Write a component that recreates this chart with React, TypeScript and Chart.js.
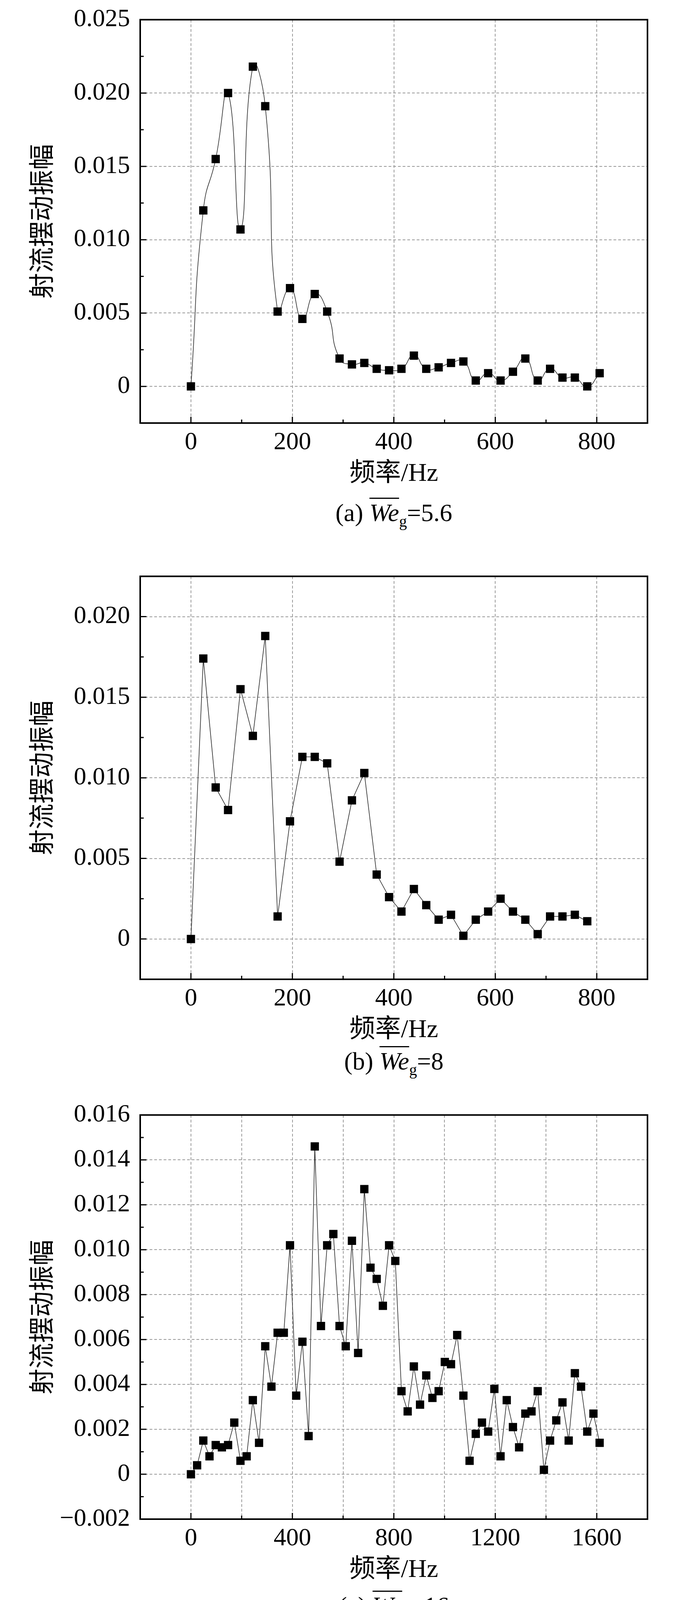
import React, { useEffect, useRef } from "react";
import Chart from "chart.js/auto";

const SERIF = '"Liberation Serif", "Times New Roman", "Noto Sans CJK SC", serif';

// frequency bins, Hz
const freqHz = [
  0, 24.4, 48.8, 73.2, 97.7, 122.1, 146.5, 170.9, 195.3, 219.7,
  244.1, 268.6, 293.0, 317.4, 341.8, 366.2, 390.6, 415.0, 439.5, 463.9,
  488.3, 512.7, 537.1, 561.5, 585.9, 610.4, 634.8, 659.2, 683.6, 708.0,
  732.4, 756.8, 781.3, 805.7, 830.1, 854.5, 878.9, 903.3, 927.7, 952.1,
  976.6, 1001.0, 1025.4, 1049.8, 1074.2, 1098.6, 1123.0, 1147.5, 1171.9, 1196.3,
  1220.7, 1245.1, 1269.5, 1293.9, 1318.4, 1342.8, 1367.2, 1391.6, 1416.0, 1440.4,
  1464.8, 1489.3, 1513.7, 1538.1, 1562.5, 1586.9, 1611.3,
];

// jet swing amplitude per case
const ampWe56 = [
  0, 0.012, 0.0155, 0.02, 0.0107, 0.0218, 0.0191, 0.0051, 0.0067, 0.0046,
  0.0063, 0.0051, 0.0019, 0.0015, 0.0016, 0.0012, 0.0011, 0.0012, 0.0021, 0.0012,
  0.0013, 0.0016, 0.0017, 0.0004, 0.0009, 0.0004, 0.001, 0.0019, 0.0004, 0.0012,
  0.0006, 0.0006, 0, 0.0009,
];
const ampWe8 = [
  0, 0.0174, 0.0094, 0.008, 0.0155, 0.0126, 0.0188, 0.0014, 0.0073, 0.0113,
  0.0113, 0.0109, 0.0048, 0.0086, 0.0103, 0.004, 0.0026, 0.0017, 0.0031, 0.0021,
  0.0012, 0.0015, 0.0002, 0.0012, 0.0017, 0.0025, 0.0017, 0.0012, 0.0003, 0.0014,
  0.0014, 0.0015, 0.0011,
];
const ampWe16 = [
  0, 0.0004, 0.0015, 0.0008, 0.0013, 0.0012, 0.0013, 0.0023, 0.0006, 0.0008,
  0.0033, 0.0014, 0.0057, 0.0039, 0.0063, 0.0063, 0.0102, 0.0035, 0.0059, 0.0017,
  0.0146, 0.0066, 0.0102, 0.0107, 0.0066, 0.0057, 0.0104, 0.0054, 0.0127, 0.0092,
  0.0087, 0.0075, 0.0102, 0.0095, 0.0037, 0.0028, 0.0048, 0.0031, 0.0044, 0.0034,
  0.0037, 0.005, 0.0049, 0.0062, 0.0035, 0.0006, 0.0018, 0.0023, 0.0019, 0.0038,
  0.0008, 0.0033, 0.0021, 0.0012, 0.0027, 0.0028, 0.0037, 0.0002, 0.0015, 0.0024,
  0.0032, 0.0015, 0.0045, 0.0039, 0.0019, 0.0027, 0.0014,
];
const ampWe40 = [
  0, 0.023, 0.009, 0.0098, 0.0181, 0.0038, 0.0078, 0.0098, 0.0113, 0.0054,
  0.0064, 0.0092, 0.007, 0.0103, 0.0063, 0.0084, 0.0069, 0.0035, 0.0046, 0.0039,
  0.0041, 0.0008, 0.0017, 0.0033, 0.0047, 0.0026, 0.0024, 0.0011, 0.0009, 0.0012,
  0.0012, 0.0002, 0.0003, 0.001, 0.0007, 0.0014,
];

// extra high-frequency points only shown in panel (e)
const tailWe56 = [
  0.001, 0.0006, 0.0009, 0.0004, 0.0005, 0.0003, 0.0004, 0.0002, 0.0003, 0.0001,
  0.0002, 0.0001, 0.0004, 0.0001, 0.0001, 0, 0.0001, 0.0003, 0.0001, 0.0001,
  0.0001, 0, 0.0002, 0.0001, 0.0001, 0.0001, 0.0002, 0, 0.0001, 0.0001, 0.0001,
];
const tailWe8 = [
  0.0002, 0.0003, 0.0003, 0.0006, 0.0021, 0.0012, 0.0012, 0.0012, 0.001, 0.0009,
  0.0009, 0.0008, 0.0005, 0.0008, 0.0012, 0.0006, 0.0005, 0.0009, 0.0012, 0.001,
  0.0011, 0.0011, 0.0005, 0.0005, 0.0011, 0.0006, 0.0005, 0.001, 0.001, 0.0009,
  0.0001, 0.0005,
];
const tailWe40 = [
  0.0009, 0.0009, 0.0006, 0.0005, 0.0004, 0.0006, 0.0002, 0.0004, 0.0013, 0.0004,
  0, 0.0011, 0.001, 0.0009, 0.0003, 0.0001, 0, 0.0009, 0.0008, 0.0008,
  0.0009, 0.0007, 0.0009, 0.0006, 0, 0.0005, 0.0006, 0.0008, 0.0008,
];

const legendLabels = ["5.6", "8", "16", "40"];
const seriesColors = ["#4d4d4d", "#f2333a", "#1a62d8", "#27a37a"];

// axis ticks
const yGrid25 = [0, 0.005, 0.01, 0.015, 0.02, 0.025];
const yMinor25 = [0.0025, 0.0075, 0.0125, 0.0175, 0.0225];
const yGrid20 = [0, 0.005, 0.01, 0.015, 0.02];
const yMinor20 = [0.0025, 0.0075, 0.0125, 0.0175];
const yGrid16 = [-0.002, 0, 0.002, 0.004, 0.006, 0.008, 0.01, 0.012, 0.014, 0.016];
const yMinor16 = [-0.001, 0.001, 0.003, 0.005, 0.007, 0.009, 0.011, 0.013, 0.015];
const x800Labels = [0, 200, 400, 600, 800];
const x800Minor = [100, 300, 500, 700];
const x1000Labels = [0, 200, 400, 600, 800, 1000];
const x1000Minor = [100, 300, 500, 700, 900];
const x1600Grid = [0, 200, 400, 600, 800, 1000, 1200, 1400, 1600];
const x1600Labels = [0, 400, 800, 1200, 1600];
const x1600Minor = [200, 600, 1000, 1400];

const pts = (vals: number[]) => vals.map((v, i) => ({ x: freqHz[i], y: v }));
const has = (arr: number[], v: number) => arr.some((a) => Math.abs(a - v) < 1e-9);

function yLabel(v: number) {
  if (Math.abs(v) < 1e-12) return "0";
  return (v < 0 ? "\u2212" : "") + Math.abs(v).toFixed(3);
}

function blackSeries(vals: number[], tension = 0) {
  return {
    data: pts(vals),
    borderColor: "#2a2a2a",
    borderWidth: 1.6,
    tension,
    pointStyle: "rect",
    pointRadius: 15,
    pointBackgroundColor: "#000",
    pointBorderWidth: 0,
  };
}

const fullWe56 = ampWe56.concat(tailWe56);
const fullWe8 = ampWe8.concat(tailWe8);
const fullWe16 = ampWe16.slice(0, 65);
const fullWe40 = ampWe40.concat(tailWe40);

function colorSeries(vals: number[], k: number, style: string, radius: number, rot = 0) {
  return {
    data: pts(vals),
    borderColor: "#3a3a3a",
    borderWidth: 1.4,
    pointStyle: style,
    pointRotation: rot,
    pointRadius: radius,
    pointBackgroundColor: seriesColors[k],
    pointBorderWidth: 0,
    order: 3 - k,
  };
}

type Spec = {
  frameTop: number;
  frameBottom: number;
  captionY: number;
  xMin: number;
  xMax: number;
  xGrid: number[];
  xLabels: number[];
  xMinor: number[];
  yMin: number;
  yMax: number;
  yGrid: number[];
  yMinor: number[];
  datasets: any[];
  legend?: boolean;
  caption: React.ReactNode;
};

const FRAME_LEFT = 359;
const FRAME_RIGHT = 1658;
const PAGE_W = 1772;

const weCaption = (tag: string, val: string) => (
  <>
    {tag}{" "}
    <span style={{ fontStyle: "italic", textDecoration: "overline", textDecorationThickness: "3px" }}>We</span>
    <sub style={{ fontSize: 40, lineHeight: 0 }}>g</sub>={val}
  </>
);

const panels: Spec[] = [
  {
    frameTop: 36, frameBottom: 1083, captionY: 1313,
    xMin: -100, xMax: 900, xGrid: x800Labels, xLabels: x800Labels, xMinor: x800Minor,
    yMin: -0.0025, yMax: 0.025, yGrid: yGrid25, yMinor: yMinor25,
    datasets: [blackSeries(ampWe56, 0.55)],
    caption: weCaption("(a)", "5.6"),
  },
  {
    frameTop: 1461, frameBottom: 2507, captionY: 2717,
    xMin: -100, xMax: 900, xGrid: x800Labels, xLabels: x800Labels, xMinor: x800Minor,
    yMin: -0.0025, yMax: 0.0225, yGrid: yGrid20, yMinor: yMinor20,
    datasets: [blackSeries(ampWe8)],
    caption: weCaption("(b)", "8"),
  },
  {
    frameTop: 2840, frameBottom: 3889, captionY: 4111,
    xMin: -200, xMax: 1800, xGrid: x1600Grid, xLabels: x1600Labels, xMinor: x1600Minor,
    yMin: -0.002, yMax: 0.016, yGrid: yGrid16, yMinor: yMinor16,
    datasets: [blackSeries(ampWe16)],
    caption: weCaption("(c)", "16"),
  },
  {
    frameTop: 4242, frameBottom: 5289, captionY: 5508,
    xMin: -100, xMax: 1000, xGrid: x1000Labels, xLabels: x1000Labels, xMinor: x1000Minor,
    yMin: -0.0025, yMax: 0.025, yGrid: yGrid25, yMinor: yMinor25,
    datasets: [blackSeries(ampWe40)],
    caption: weCaption("(d)", "40"),
  },
  {
    frameTop: 5647, frameBottom: 6696, captionY: 6919,
    xMin: -200, xMax: 1700, xGrid: x1600Grid, xLabels: x1600Labels, xMinor: x1600Minor,
    yMin: -0.0025, yMax: 0.025, yGrid: yGrid25, yMinor: yMinor25,
    datasets: [
      colorSeries(fullWe56, 0, "rect", 14),
      colorSeries(fullWe8, 1, "circle", 12),
      colorSeries(fullWe16, 2, "triangle", 14),
      colorSeries(fullWe40, 3, "triangle", 14, 180),
    ],
    legend: true,
    caption: (
      <>
        (e) <span style={{ fontStyle: "italic" }}>k</span>=1 000
      </>
    ),
  },
];

const TOP_PAD = 50;
const X_AXIS_H = 170;

function Panel({ spec }: { spec: Spec }) {
  const canvasRef = useRef<HTMLCanvasElement>(null);
  const top = spec.frameTop - TOP_PAD;
  const height = spec.frameBottom - top + X_AXIS_H;

  useEffect(() => {
    if (!canvasRef.current) return;

    // frame + inward tick marks like the Origin plot
    const framePlugin = {
      id: "frameTicks",
      afterDatasetsDraw(chart: any) {
        const { ctx, chartArea: a, scales } = chart;
        ctx.save();
        ctx.strokeStyle = "#000";
        ctx.lineWidth = 3;
        ctx.beginPath();
        spec.xLabels.forEach((v) => {
          const px = scales.x.getPixelForValue(v);
          ctx.moveTo(px, a.bottom);
          ctx.lineTo(px, a.bottom - 16);
        });
        spec.xMinor.forEach((v) => {
          const px = scales.x.getPixelForValue(v);
          ctx.moveTo(px, a.bottom);
          ctx.lineTo(px, a.bottom - 9);
        });
        spec.yGrid.forEach((v) => {
          const py = scales.y.getPixelForValue(v);
          ctx.moveTo(a.left, py);
          ctx.lineTo(a.left + 16, py);
        });
        spec.yMinor.forEach((v) => {
          const py = scales.y.getPixelForValue(v);
          ctx.moveTo(a.left, py);
          ctx.lineTo(a.left + 9, py);
        });
        ctx.stroke();
        ctx.lineWidth = 4;
        ctx.strokeRect(a.left, a.top, a.right - a.left, a.bottom - a.top);
        ctx.restore();
      },
    };

    // legend with overlined We and subscript g
    const legendPlugin = {
      id: "weLegend",
      afterDraw(chart: any) {
        if (!spec.legend) return;
        const { ctx, chartArea: a } = chart;
        const boxL = a.right - 470;
        const boxT = a.top + 40;
        ctx.save();
        ctx.fillStyle = "#fff";
        ctx.fillRect(boxL, boxT, 400, 380);
        legendLabels.forEach((lab, k) => {
          const cy = a.top + 94 + k * 92;
          const x0 = a.right - 441;
          ctx.strokeStyle = "#3a3a3a";
          ctx.lineWidth = 1.6;
          ctx.beginPath();
          ctx.moveTo(x0, cy);
          ctx.lineTo(x0 + 120, cy);
          ctx.stroke();
          ctx.fillStyle = seriesColors[k];
          const mx = x0 + 60;
          ctx.beginPath();
          if (k === 0) {
            ctx.rect(mx - 10, cy - 10, 20, 20);
          } else if (k === 1) {
            ctx.arc(mx, cy, 12, 0, Math.PI * 2);
          } else if (k === 2) {
            ctx.moveTo(mx, cy - 15);
            ctx.lineTo(mx + 13, cy + 9);
            ctx.lineTo(mx - 13, cy + 9);
          } else {
            ctx.moveTo(mx, cy + 15);
            ctx.lineTo(mx + 13, cy - 9);
            ctx.lineTo(mx - 13, cy - 9);
          }
          ctx.closePath();
          ctx.fill();

          let tx = x0 + 136;
          const base = cy + 22;
          ctx.fillStyle = "#000";
          ctx.textBaseline = "alphabetic";
          ctx.textAlign = "left";
          ctx.font = `italic 66px ${SERIF}`;
          ctx.fillText("We", tx, base);
          const w = ctx.measureText("We").width;
          ctx.fillRect(tx + 4, base - 63, w - 2, 4);
          tx += w;
          ctx.font = `42px ${SERIF}`;
          ctx.fillText("g", tx, base + 17);
          tx += ctx.measureText("g").width;
          ctx.font = `66px ${SERIF}`;
          ctx.fillText("=" + lab, tx, base);
        });
        ctx.restore();
      },
    };

    const tickFont = { family: SERIF, size: 64 };
    const titleFont = { family: SERIF, size: 66 };

    const chart = new Chart(canvasRef.current, {
      type: "line",
      data: { datasets: spec.datasets },
      options: {
        responsive: false,
        animation: false,
        devicePixelRatio: 1,
        layout: {
          padding: { left: 0, right: PAGE_W - FRAME_RIGHT, top: TOP_PAD, bottom: 0 },
        },
        plugins: {
          legend: { display: false },
          tooltip: { enabled: false },
        },
        scales: {
          x: {
            type: "linear",
            min: spec.xMin,
            max: spec.xMax,
            afterFit: (s: any) => {
              s.height = X_AXIS_H;
            },
            afterBuildTicks: (s: any) => {
              s.ticks = spec.xGrid.map((v) => ({ value: v }));
            },
            ticks: {
              autoSkip: false,
              maxRotation: 0,
              padding: 12,
              color: "#000",
              font: tickFont,
              callback: (v: any) => (has(spec.xLabels, Number(v)) ? String(v) : ""),
            },
            grid: {
              color: "#9a9a9a",
              lineWidth: 2,
              drawTicks: false,
            },
            border: { display: false, dash: [7, 5] },
            title: {
              display: true,
              text: "频率/Hz",
              color: "#000",
              font: titleFont,
              padding: { top: 0, bottom: 0 },
            },
          },
          y: {
            type: "linear",
            min: spec.yMin,
            max: spec.yMax,
            afterFit: (s: any) => {
              s.width = FRAME_LEFT;
            },
            afterBuildTicks: (s: any) => {
              s.ticks = spec.yGrid.map((v) => ({ value: v }));
            },
            ticks: {
              autoSkip: false,
              padding: 26,
              color: "#000",
              font: tickFont,
              callback: (v: any) => yLabel(Number(v)),
            },
            grid: {
              color: "#9a9a9a",
              lineWidth: 2,
              drawTicks: false,
            },
            border: { display: false, dash: [7, 5] },
            title: {
              display: true,
              text: "射流摆动振幅",
              color: "#000",
              font: titleFont,
              padding: { top: 73, bottom: 0 },
            },
          },
        },
      } as any,
      plugins: [framePlugin, legendPlugin],
    });

    return () => chart.destroy();
  }, [spec]);

  return (
    <>
      <canvas
        ref={canvasRef}
        width={PAGE_W}
        height={height}
        style={{ position: "absolute", left: 0, top, display: "block" }}
      />
      <div
        style={{
          position: "absolute",
          left: FRAME_LEFT,
          width: FRAME_RIGHT - FRAME_LEFT,
          top: spec.captionY - 40,
          height: 80,
          lineHeight: "80px",
          textAlign: "center",
          fontFamily: SERIF,
          fontSize: 64,
          color: "#000",
          whiteSpace: "nowrap",
        }}
      >
        {spec.caption}
      </div>
    </>
  );
}

export default function App() {
  useEffect(() => {
    document.body.style.margin = "0";
    document.body.style.background = "#fff";
  }, []);

  return (
    <div style={{ position: "relative", width: PAGE_W, height: 6966, background: "#fff", overflow: "hidden" }}>
      {panels.map((p, i) => (
        <Panel key={i} spec={p} />
      ))}
    </div>
  );
}
